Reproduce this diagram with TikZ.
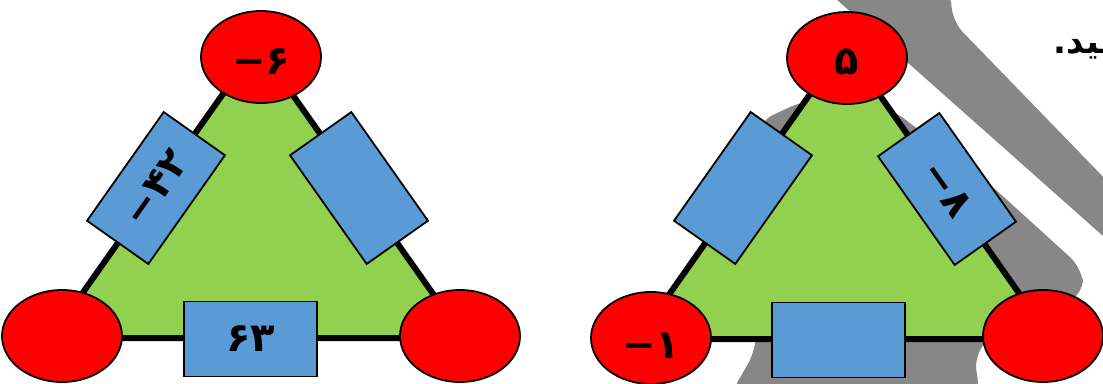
\documentclass[tikz,border=0pt]{standalone}
\usepackage{fontspec}
\usetikzlibrary{shapes.geometric}
\TeXXeTstate=1
\newfontfamily\arabicbold[Script=Arabic]{DejaVu Sans Bold}
\newfontfamily\numfont{DejaVu Sans Bold}
\definecolor{trigreen}{HTML}{92D050}
\definecolor{boxblue}{HTML}{5B9BD5}
\definecolor{shadowgray}{HTML}{878787}
\tikzset{
  tri/.style={fill=trigreen, draw=black, line width=6pt, line join=miter},
  redell/.style={ellipse, fill=red, draw=black, line width=1.8pt, minimum width=120pt, minimum height=92pt, inner sep=0pt, font=\numfont\fontsize{40}{40}\selectfont},
  bluebox/.style={rectangle, fill=boxblue, draw=black, line width=1.8pt, minimum width=133pt, minimum height=75pt, inner sep=0pt, font=\numfont\fontsize{40}{40}\selectfont},
  shade/.style={fill=shadowgray, draw=none}
}
\begin{document}
\begin{tikzpicture}[x=1pt,y=-1pt]
\useasboundingbox (0,0) rectangle (1103,383);
\begin{scope}
\clip (0,0) rectangle (1103,383);
% gray band
\fill[shade, rounded corners=14pt] (826,-10) -- (1112,244) -- (1112,186) -- (953,22) -- (950,-10) -- cycle;
% gray shadow behind right triangle
\fill[shade, rounded corners=16pt] (730,395) -- (756,350) -- (758,122) -- (805,100) -- (890,108) -- (985,180) -- (1082,268) -- (1084,294) -- (990,338) -- (974,354) -- (980,395) -- cycle;
% text at the top right
\node[anchor=base east, inner sep=0pt, font=\arabicbold\fontsize{34}{34}\selectfont] (txt) at (1112,53) {\beginR ـید.\endR};
\end{scope}

% left triangle
\coordinate (LA) at (257.5,45);
\coordinate (LB) at (50.8,338);
\coordinate (LC) at (464.2,338);
\filldraw[tri] (LA) -- (LB) -- (LC) -- cycle;
\node[bluebox, rotate=54.8] (Lb1) at (156,188) {−۴۲};
\node[bluebox, rotate=-54.8] (Lb2) at (359,188) {};
\node[bluebox] (Lb3) at (250.5,339) {۶۳};
\node[redell] (Le1) at (261,57) {\raisebox{-5pt}[\height][\depth]{−۶}};
\node[redell] (Le2) at (62,336) {};
\node[redell] (Le3) at (460,336) {};

% right triangle
\coordinate (RA) at (844.5,45);
\coordinate (RB) at (637.8,339);
\coordinate (RC) at (1051.2,339);
\filldraw[tri] (RA) -- (RB) -- (RC) -- cycle;
\node[bluebox, rotate=54.8] (Rb1) at (743,188) {};
\node[bluebox, rotate=-54.8] (Rb2) at (947,189) {−۸};
\node[bluebox] (Rb3) at (838.5,340) {};
\node[redell] (Re1) at (847,58) {\raisebox{-4pt}[\height][\depth]{۵}};
\node[redell] (Re2) at (651,338) {\raisebox{-8pt}[\height][\depth]{−۱}};
\node[redell] (Re3) at (1043,336) {};
\end{tikzpicture}
\end{document}
